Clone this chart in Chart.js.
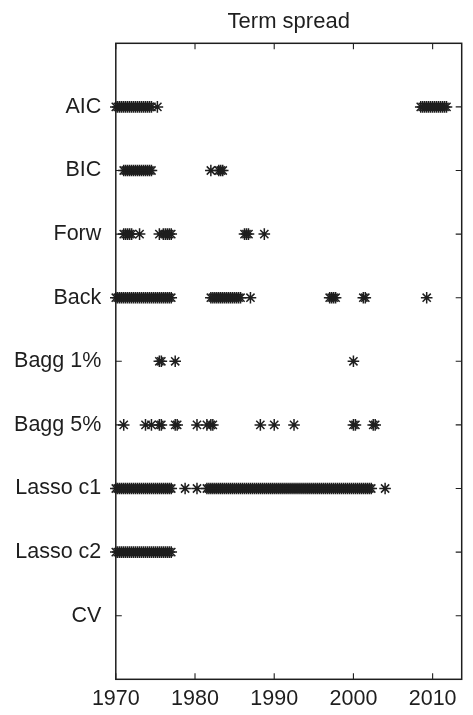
<!DOCTYPE html>
<html>
<head>
<meta charset="utf-8">
<script src="https://cdn.jsdelivr.net/npm/chart.js@4.4.1/dist/chart.umd.min.js"></script>
<style>
  html, body { margin: 0; padding: 0; background: #fff; }
  #wrap { width: 473px; height: 715px; position: relative; }
</style>
</head>
<body>
<div id="wrap"><canvas id="c"></canvas></div>
<script>
// ---- Data (dates, quarterly resolution) ----
const methods = ['AIC', 'BIC', 'Forw', 'Back', 'Bagg 1%', 'Bagg 5%', 'Lasso c1', 'Lasso c2', 'CV'];
const xTickValues = [1970, 1980, 1990, 2000, 2010];
const titleText = 'Term spread';

const datesAIC = [1970, 1970.25, 1970.5, 1970.75, 1971, 1971.25, 1971.5, 1971.75, 1972, 1972.25, 1972.5, 1972.75,
  1973, 1973.25, 1973.5, 1973.75, 1974, 1974.25, 1974.5, 1975.25,
  2008.5, 2008.75, 2009, 2009.25, 2009.5, 2009.75, 2010, 2010.25, 2010.5, 2010.75, 2011, 2011.25, 2011.5, 2011.75];
const datesBIC = [1971, 1971.25, 1971.5, 1971.75, 1972, 1972.25, 1972.5, 1972.75, 1973, 1973.25, 1973.5, 1973.75,
  1974, 1974.25, 1974.5, 1982, 1983, 1983.25, 1983.5];
const datesForw = [1971, 1971.25, 1971.5, 1971.75, 1972, 1973, 1975.5, 1976, 1976.25, 1976.5, 1976.75, 1977,
  1986.25, 1986.5, 1986.75, 1988.75];
const datesBack = [1970, 1970.25, 1970.5, 1970.75, 1971, 1971.25, 1971.5, 1971.75, 1972, 1972.25, 1972.5, 1972.75,
  1973, 1973.25, 1973.5, 1973.75, 1974, 1974.25, 1974.5, 1974.75, 1975, 1975.25, 1975.5, 1975.75, 1976, 1976.25,
  1976.5, 1976.75, 1977,
  1982, 1982.25, 1982.5, 1982.75, 1983, 1983.25, 1983.5, 1983.75, 1984, 1984.25, 1984.5, 1984.75, 1985, 1985.25,
  1985.5, 1985.75, 1987,
  1997, 1997.25, 1997.5, 1997.75, 2001.25, 2001.5, 2009.25];
const datesBagg1 = [1975.5, 1975.75, 1977.5, 2000];
const datesBagg5 = [1971, 1973.75, 1974.5, 1975.5, 1975.75, 1977.5, 1977.75, 1980.25, 1981.5, 1982, 1982.25,
  1988.25, 1990, 1992.5, 2000, 2000.25, 2002.5, 2002.75];
const datesLasso1 = [1970, 1970.25, 1970.5, 1970.75, 1971, 1971.25, 1971.5, 1971.75, 1972, 1972.25, 1972.5, 1972.75,
  1973, 1973.25, 1973.5, 1973.75, 1974, 1974.25, 1974.5, 1974.75, 1975, 1975.25, 1975.5, 1975.75, 1976, 1976.25,
  1976.5, 1976.75, 1977, 1978.75, 1980.25,
  1981.5, 1981.75, 1982, 1982.25, 1982.5, 1982.75, 1983, 1983.25, 1983.5, 1983.75, 1984, 1984.25, 1984.5, 1984.75,
  1985, 1985.25, 1985.5, 1985.75, 1986, 1986.25, 1986.5, 1986.75, 1987, 1987.25, 1987.5, 1987.75,
  1988, 1988.25, 1988.5, 1988.75, 1989, 1989.25, 1989.5, 1989.75, 1990, 1990.25, 1990.5, 1990.75,
  1991, 1991.25, 1991.5, 1991.75, 1992, 1992.25, 1992.5, 1992.75, 1993, 1993.25, 1993.5, 1993.75,
  1994, 1994.25, 1994.5, 1994.75, 1995, 1995.25, 1995.5, 1995.75, 1996, 1996.25, 1996.5, 1996.75,
  1997, 1997.25, 1997.5, 1997.75, 1998, 1998.25, 1998.5, 1998.75, 1999, 1999.25, 1999.5, 1999.75,
  2000, 2000.25, 2000.5, 2000.75, 2001, 2001.25, 2001.5, 2001.75, 2002, 2002.25, 2004];
const datesLasso2 = [1970, 1970.25, 1970.5, 1970.75, 1971, 1971.25, 1971.5, 1971.75, 1972, 1972.25, 1972.5, 1972.75,
  1973, 1973.25, 1973.5, 1973.75, 1974, 1974.25, 1974.5, 1974.75, 1975, 1975.25, 1975.5, 1975.75, 1976, 1976.25,
  1976.5, 1976.75, 1977];
const datesCV = [];

const seriesDates = [datesAIC, datesBIC, datesForw, datesBack, datesBagg1, datesBagg5, datesLasso1, datesLasso2, datesCV];

// ---- Chart ----
const INK = '#1e1e1e';
const FONT = '"Liberation Sans", Arial, Helvetica, sans-serif';

const datasets = seriesDates.map((dates, i) => ({
  label: methods[i],
  data: dates.map(d => ({ x: d, y: i + 1 })),
  showLine: false,
  pointStyle: 'star',
  pointRadius: 5.8,
  pointBorderWidth: 1.5,
  borderColor: INK,
  backgroundColor: INK,
  clip: false
}));

const framePlugin = {
  id: 'frame',
  afterDatasetsDraw(chart) {
    const { ctx, chartArea: a, scales } = chart;
    ctx.save();
    ctx.strokeStyle = INK;
    ctx.lineWidth = 1.5;
    ctx.strokeRect(a.left, a.top, a.right - a.left, a.bottom - a.top);
    ctx.lineWidth = 1.1;
    const tl = 6;
    ctx.beginPath();
    xTickValues.forEach(v => {
      const px = scales.x.getPixelForValue(v);
      ctx.moveTo(px, a.bottom); ctx.lineTo(px, a.bottom - tl);
      ctx.moveTo(px, a.top); ctx.lineTo(px, a.top + tl);
    });
    methods.forEach((m, i) => {
      const py = scales.y.getPixelForValue(i + 1);
      ctx.moveTo(a.left, py); ctx.lineTo(a.left + tl, py);
      ctx.moveTo(a.right, py); ctx.lineTo(a.right - tl, py);
    });
    ctx.stroke();
    ctx.restore();
  }
};

new Chart(document.getElementById('c'), {
  type: 'scatter',
  data: { datasets },
  plugins: [framePlugin],
  options: {
    responsive: true,
    maintainAspectRatio: false,
    animation: false,
    events: [],
    layout: { padding: { left: 0, right: 11.3, top: 0, bottom: 0 } },
    plugins: {
      legend: { display: false },
      tooltip: { enabled: false },
      title: {
        display: true,
        text: titleText,
        fullSize: false,
        color: INK,
        font: { family: FONT, size: 22, weight: 'normal', lineHeight: 1.2 },
        padding: { top: 9, bottom: 7.9 }
      }
    },
    scales: {
      x: {
        type: 'linear',
        min: 1970,
        max: 2013.67,
        afterBuildTicks: s => { s.ticks = xTickValues.map(v => ({ value: v })); },
        afterFit: s => { s.height = 35.7; },
        grid: { display: false, drawTicks: false },
        border: { display: false },
        ticks: {
          color: INK,
          padding: 6.5,
          maxRotation: 0,
          autoSkip: false,
          font: { family: FONT, size: 21.5 },
          callback: v => String(v)
        }
      },
      y: {
        type: 'linear',
        min: 0,
        max: 10,
        reverse: true,
        afterBuildTicks: s => { s.ticks = methods.map((m, i) => ({ value: i + 1 })); },
        afterFit: s => { s.width = 115.8; },
        grid: { display: false, drawTicks: false },
        border: { display: false },
        ticks: {
          color: INK,
          padding: 14.5,
          autoSkip: false,
          font: { family: FONT, size: 21.5 },
          callback: v => methods[v - 1] || ''
        }
      }
    }
  }
});
</script>
</body>
</html>
